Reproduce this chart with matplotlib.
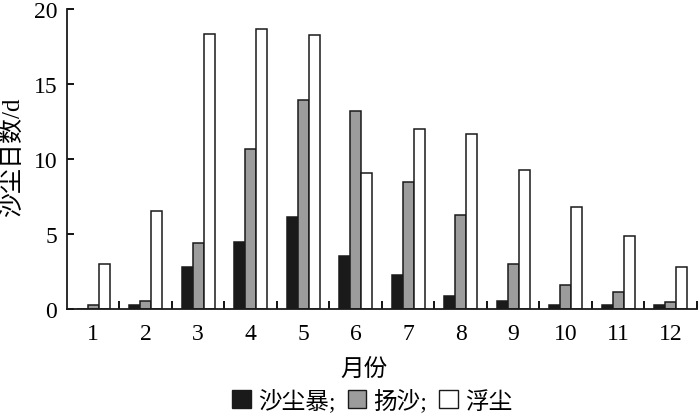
import numpy as np
import matplotlib
matplotlib.use("Agg")
import matplotlib.pyplot as plt
from matplotlib.patches import Patch

plt.rcParams['font.family'] = ['Liberation Serif', 'Noto Sans CJK SC']

months = ['1', '2', '3', '4', '5', '6', '7', '8', '9', '10', '11', '12']
sandstorm = [0.0, 0.3, 2.8, 4.45, 6.15, 3.55, 2.28, 0.85, 0.55, 0.3, 0.3, 0.28]
blowing = [0.3, 0.55, 4.4, 10.65, 13.95, 13.2, 8.5, 6.3, 3.0, 1.6, 1.13, 0.5]
floating = [3.0, 6.55, 18.35, 18.7, 18.25, 9.05, 12.0, 11.65, 9.25, 6.78, 4.9, 2.78]
series_names = ['沙尘暴;', '扬沙;', '浮尘']

fig = plt.figure(figsize=(7, 4.14), dpi=100)
ax = fig.add_axes([0.0957, 0.2512, 0.9, 0.7246])

x = np.arange(1, len(months) + 1)
w = 0.21
ax.bar(x - w, sandstorm, w, color='#1a1a1a', edgecolor='#1a1a1a', linewidth=1.1)
ax.bar(x, blowing, w, color='#9c9c9c', edgecolor='#1a1a1a', linewidth=1.1)
ax.bar(x + w, floating, w, color='white', edgecolor='#1a1a1a', linewidth=1.1)

ax.set_xlim(0.5, 12.5)
ax.set_ylim(0, 20)
ax.set_yticks([0, 5, 10, 15, 20])
ax.set_xticks(x)
ax.set_xticklabels(months)
ax.set_xticks(np.arange(1.5, 13, 1), minor=True)
ax.tick_params(axis='x', which='major', length=0, pad=10, labelsize=17)
ax.tick_params(axis='x', which='minor', direction='in', length=6, width=1.3)
ax.tick_params(axis='y', direction='in', length=5, width=1.3, pad=7, labelsize=17)

for s in ['top', 'right']:
    ax.spines[s].set_visible(False)
for s in ['left', 'bottom']:
    ax.spines[s].set_linewidth(1.3)
    ax.spines[s].set_color('#1a1a1a')

fig.text(0.017, 0.62, '沙尘日数/d', fontsize=18, rotation=90, ha='center', va='center')
fig.text(0.52, 0.106, '月份', fontsize=17, ha='center', va='center')

handles = [Patch(facecolor='#1a1a1a', edgecolor='#1a1a1a'),
           Patch(facecolor='#9c9c9c', edgecolor='#1a1a1a'),
           Patch(facecolor='white', edgecolor='#1a1a1a')]
fig.legend(handles, series_names, loc='center', bbox_to_anchor=(0.532, 0.03),
           ncol=3, frameon=False, fontsize=17, handlelength=0.8, handleheight=0.8,
           handletextpad=0.3, columnspacing=0.5, borderpad=0)

fig.savefig('out.png', dpi=100)
